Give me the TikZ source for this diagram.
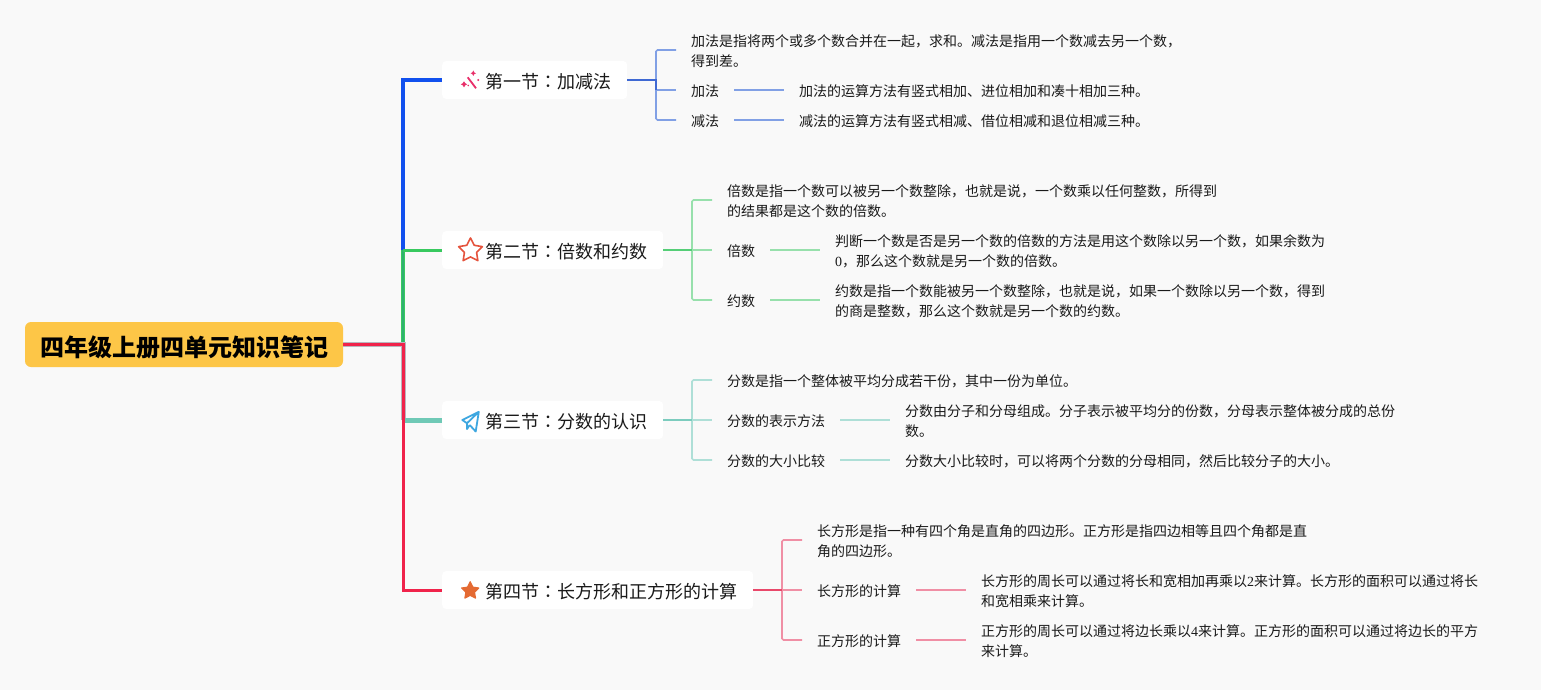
\documentclass[tikz,border=0pt]{standalone}
\usepackage{fontspec}
\setmainfont{Noto Sans CJK SC}
\newfontfamily\colonfont{Noto Sans CJK TC}
\newfontfamily\digitfont{Liberation Serif}
\usetikzlibrary{shapes.geometric}
\definecolor{bgc}{HTML}{F9F9F9}
\definecolor{rootc}{HTML}{FDC647}
\definecolor{blueA}{HTML}{1150EE}\definecolor{blueB}{HTML}{3F69D3}\definecolor{blueC}{HTML}{81A0E5}
\definecolor{greenA}{HTML}{38C95F}\definecolor{greenB}{HTML}{55CE77}\definecolor{greenC}{HTML}{97E0AC}\definecolor{greenD}{HTML}{2FB070}
\definecolor{tealA}{HTML}{6FC9B6}\definecolor{tealB}{HTML}{7CCCBE}\definecolor{tealC}{HTML}{AEDFD7}
\definecolor{redA}{HTML}{F0234B}\definecolor{redB}{HTML}{E9486A}\definecolor{redC}{HTML}{F08FA5}
\definecolor{trunkgrey}{HTML}{B8B6BE}
\definecolor{wandc}{HTML}{E8306A}\definecolor{starline}{HTML}{E5533D}\definecolor{starfill}{HTML}{E46A32}\definecolor{planec}{HTML}{3EA7E0}
\definecolor{textc}{HTML}{1A1A1A}
\tikzset{
  x=1pt,y=-1pt,
  rootbox/.style={fill=rootc,rounded corners=6pt,minimum width=318pt,minimum height=45pt,inner sep=0pt,
    font=\fontsize{24pt}{28pt}\selectfont\bfseries,text=black,text height=23.5pt,text depth=0.5pt},
  secbox/.style={fill=white,rounded corners=4pt,minimum height=38pt,inner ysep=0pt,inner xsep=0pt,anchor=west,
    font=\fontsize{18pt}{22pt}\selectfont,text=textc,text height=18pt,text depth=1pt},
  leaf/.style={anchor=west,inner xsep=15pt,inner ysep=0pt,align=left,text=textc,yshift=-1pt,
    font=\fontsize{14pt}{20pt}\selectfont},
  up/.style={yshift=1pt},
  trunk/.style={line width=#1,line join=miter},
  lt/.style={line width=1.6pt,rounded corners=1.5pt}
}
\newcommand{\sectxt}[2]{\rule{43pt}{0pt}#1{\colonfont ：}#2\rule{16pt}{0pt}}
\newcommand{\dg}[1]{{\digitfont #1}}
\begin{document}
\begin{tikzpicture}
\useasboundingbox (0,0) rectangle (1541,690);
\fill[bgc] (0,0) rectangle (1541,690);

\node[rootbox] (root) at (184,344.5) {四年级上册四单元知识笔记};
\coordinate (tk) at (403,344.5);
\node[secbox] (s1) at (442,80) {\sectxt{第一节}{加减法}};
\node[secbox] (s2) at (442,250) {\sectxt{第二节}{倍数和约数}};
\node[secbox] (s3) at (442,420) {\sectxt{第三节}{分数的认识}};
\node[secbox] (s4) at (442,590) {\sectxt{第四节}{长方形和正方形的计算}};

% trunk
\draw[blueA,trunk=4pt] (tk) -- (tk |- s1.west) -- (s1.west);
\draw[greenA,trunk=4.5pt] (tk) -- (tk |- s2.west);
\draw[greenD,trunk=1.6pt] (tk) -- (tk |- s2.west);
\draw[greenA,trunk=3pt] (tk |- s2.west) -- (s2.west);
\draw[trunkgrey,trunk=5pt] (root.east) -- (tk) -- (tk |- s3.west);
\draw[tealA,trunk=5pt] (tk |- s3.west) -- (s3.west);
\draw[redA,trunk=3pt] (root.east) -- (tk) -- (tk |- s4.west) -- (s4.west);

% icons
\node[star,star points=5,star point ratio=1.95,draw=starline,line width=1.6pt,line join=round,minimum size=25pt,inner sep=0pt] (ic2) at (470.5,250.5) {};
\node[star,star points=5,star point ratio=2.0,fill=starfill,draw=starfill,line width=1.2pt,line join=round,minimum size=18pt,inner sep=0pt] (ic4) at (470.2,590.8) {};
\begin{scope}[shift={(470,81)}]
  \draw[wandc,line width=1.8pt] (-2.3,-3.7) -- (6,7.3);
  \fill[wandc] (-6,0.3) -- (-4.8,2.2) -- (-2.8,3.3) -- (-4.8,4.4) -- (-6,6.4) -- (-7.2,4.4) -- (-9.2,3.3) -- (-7.2,2.2) -- cycle
     (3.3,-10.5) -- (4.2,-8.6) -- (6,-7.7) -- (4.2,-6.8) -- (3.3,-5) -- (2.4,-6.8) -- (0.6,-7.7) -- (2.4,-8.6) -- cycle
     (8.3,-1) circle (1.1pt) (-1.7,4.5) circle (0.9pt);
\end{scope}
\begin{scope}[shift={(470,421)}]
  \draw[planec,line width=1.8pt,line join=round] (8.8,-9.2) -- (-7.7,-1) -- (-3,2.2) -- (8.8,-9.2) -- (5.7,10.5) -- (-0.3,4) (-3,2.2) -- (-3,8) -- (-0.3,4);
\end{scope}

% section 1
\coordinate (b1) at (656,80);
\node[leaf] (a1) at (676,50) {加法是指将两个或多个数合并在一起，求和。减法是指用一个数减去另一个数，\\得到差。};
\node[leaf] (a2) at (676,90) {加法};
\node[leaf] (a3) at (676,120) {减法};
\node[leaf] (a4) at (784,90) {加法的运算方法有竖式相加、进位相加和凑十相加三种。};
\node[leaf] (a5) at (784,120) {减法的运算方法有竖式相减、借位相减和退位相减三种。};
\draw[blueC,lt] ([up]a1.west) -- ([up]b1 |- a1.west) -- ([up]b1 |- a3.west) -- ([up]a3.west);
\draw[blueC,line width=1.6pt] ([up]b1 |- a2.west) -- ([up]a2.west);
\draw[blueB,line width=2pt] (s1.east) -- (b1) -- ([up]b1 |- a2.west);
\draw[blueC,line width=1.6pt] ([up]a2.east) -- ([up]a4.west);
\draw[blueC,line width=1.6pt] ([up]a3.east) -- ([up]a5.west);

% section 2
\coordinate (b2) at (692,250);
\node[leaf] (c1) at (712,200) {倍数是指一个数可以被另一个数整除，也就是说，一个数乘以任何整数，所得到\\的结果都是这个数的倍数。};
\node[leaf] (c2) at (712,250) {倍数};
\node[leaf] (c3) at (712,300) {约数};
\node[leaf] (c4) at (820,250) {判断一个数是否是另一个数的倍数的方法是用这个数除以另一个数，如果余数为\\\dg{0}，那么这个数就是另一个数的倍数。};
\node[leaf] (c5) at (820,300) {约数是指一个数能被另一个数整除，也就是说，如果一个数除以另一个数，得到\\的商是整数，那么这个数就是另一个数的约数。};
\draw[greenC,lt] ([up]c1.west) -- ([up]b2 |- c1.west) -- ([up]b2 |- c3.west) -- ([up]c3.west);
\draw[greenC,line width=1.6pt] (b2) -- ([up]c2.west);
\draw[greenB,line width=2pt] (s2.east) -- (b2);
\draw[greenC,line width=1.6pt] ([up]c2.east) -- ([up]c4.west);
\draw[greenC,line width=1.6pt] ([up]c3.east) -- ([up]c5.west);

% section 3
\coordinate (b3) at (692,420);
\node[leaf] (d1) at (712,380) {分数是指一个整体被平均分成若干份，其中一份为单位。};
\node[leaf] (d2) at (712,420) {分数的表示方法};
\node[leaf] (d3) at (712,460) {分数的大小比较};
\node[leaf] (d4) at (890,420) {分数由分子和分母组成。分子表示被平均分的份数，分母表示整体被分成的总份\\数。};
\node[leaf] (d5) at (890,460) {分数大小比较时，可以将两个分数的分母相同，然后比较分子的大小。};
\draw[tealC,lt] ([up]d1.west) -- ([up]b3 |- d1.west) -- ([up]b3 |- d3.west) -- ([up]d3.west);
\draw[tealC,line width=1.6pt] (b3) -- ([up]d2.west);
\draw[tealB,line width=2pt] (s3.east) -- (b3);
\draw[tealC,line width=1.6pt] ([up]d2.east) -- ([up]d4.west);
\draw[tealC,line width=1.6pt] ([up]d3.east) -- ([up]d5.west);

% section 4
\coordinate (b4) at (782,590);
\node[leaf] (e1) at (802,540) {长方形是指一种有四个角是直角的四边形。正方形是指四边相等且四个角都是直\\角的四边形。};
\node[leaf] (e2) at (802,590) {长方形的计算};
\node[leaf] (e3) at (802,640) {正方形的计算};
\node[leaf] (e4) at (966,590) {长方形的周长可以通过将长和宽相加再乘以\dg{2}来计算。长方形的面积可以通过将长\\和宽相乘来计算。};
\node[leaf] (e5) at (966,640) {正方形的周长可以通过将边长乘以\dg{4}来计算。正方形的面积可以通过将边长的平方\\来计算。};
\draw[redC,lt] ([up]e1.west) -- ([up]b4 |- e1.west) -- ([up]b4 |- e3.west) -- ([up]e3.west);
\draw[redC,line width=1.6pt] (b4) -- ([up]e2.west);
\draw[redB,line width=2pt] (s4.east) -- (b4);
\draw[redC,line width=1.6pt] ([up]e2.east) -- ([up]e4.west);
\draw[redC,line width=1.6pt] ([up]e3.east) -- ([up]e5.west);
\end{tikzpicture}
\end{document}
